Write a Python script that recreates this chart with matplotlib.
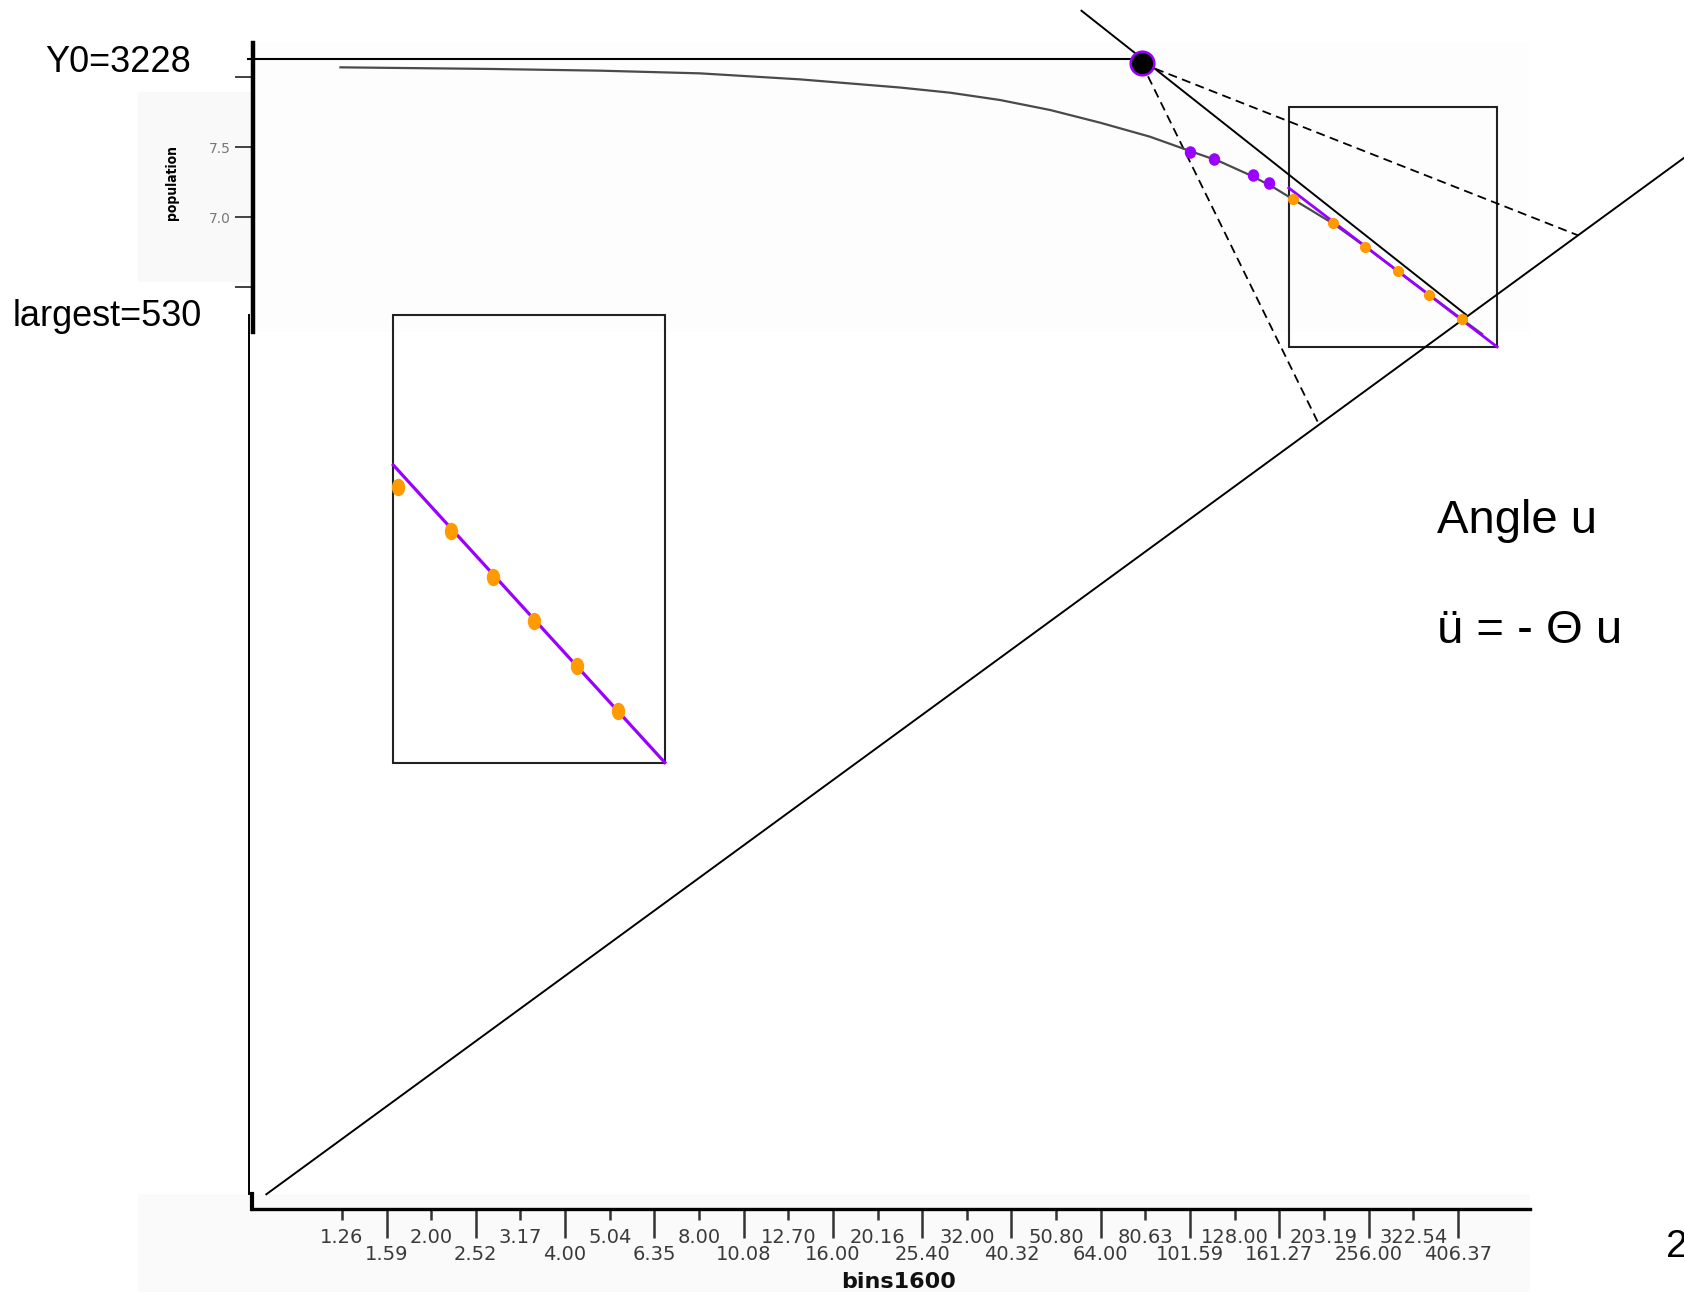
import numpy as np
import matplotlib.pyplot as plt
from matplotlib.path import Path
from matplotlib.markers import MarkerStyle
from matplotlib.patches import Rectangle

plt.rcParams['font.family'] = ['DejaVu Sans']

################## canvas (reference pixels, as shown) ##################
W, H = 1568, 1203

################## axes data ##################
bin_upper = [1.26, 2.00, 3.17, 5.04, 8.00, 12.70, 20.16, 32.00, 50.80, 80.63, 128.00, 203.19, 322.54]
bin_lower = [1.59, 2.52, 4.00, 6.35, 10.08, 16.00, 25.40, 40.32, 64.00, 101.59, 161.27, 256.00, 406.37]
bin_range = (0.791, 590.5)

pop_ticks = [6.5, 7.0, 7.5, 8.0]
pop_labels = ['', '7.0', '7.5', '']
pop_range = (6.18, 8.243)

################## drawing data (canvas units) ##################
curve_x = [317, 457, 558.7, 651.8, 744.9, 838, 884.6, 931, 977.7, 1024.2, 1070.8, 1108, 1135,
           1166, 1185, 1204, 1241, 1271, 1301, 1331, 1361, 1380]
curve_y = [62.7, 64.2, 65.8, 68.3, 73.9, 81.5, 86.3, 93.1, 102.4, 114.2, 127.3, 140.6, 150,
           164, 174, 185.6, 208, 229.5, 252, 274.5, 297, 311]

purple_x = [1107.6, 1130, 1167, 1182]
purple_y = [141.2, 148.3, 163, 170.7]
orange_x = [1204, 1241.6, 1271, 1301.5, 1330.5, 1361]
orange_y = [185.6, 208, 230, 252.3, 274.7, 297]
fit_x = [1200, 1394]
fit_y = [175, 323]
small_box = [1200, 100, 1394, 323]

zoom_orange_x = [370.9, 419.6, 459, 497.5, 537, 575.4]
zoom_orange_y = [453.7, 494.4, 537, 578.2, 620, 661.7]
zoom_fit_x = [366.2, 619]
zoom_fit_y = [433, 710]
zoom_box = [366.2, 293, 619, 710]

y0_point = [1063, 59]
level_x = [231, 1063]
level_y = [55.3, 55.3]
tangent_x = [1007, 1365]
tangent_y = [10, 293]
dash_a_x = [1063, 1229]
dash_a_y = [59, 397]
dash_b_x = [1063, 1469]
dash_b_y = [59, 219]
diag_x = [248, 1568]
diag_y = [1112, 147]
frame_x = [232, 232]
frame_y = [293, 1112]

purple = '#9a00ff'
orange = '#ff9a00'


def box(ax, b, **kw):
    ax.add_patch(Rectangle((b[0], b[1]), b[2] - b[0], b[3] - b[1], fill=False, **kw))


circ = Path.unit_circle()
oval = MarkerStyle(Path(circ.vertices * [0.75, 1.0], circ.codes))
oval2 = MarkerStyle(Path(circ.vertices * [0.9, 1.0], circ.codes))

fig = plt.figure(figsize=(16.84, 12.92), dpi=100)
cv = fig.add_axes([0, 0, 1, 1])
cv.set_xlim(0, W)
cv.set_ylim(H, 0)
cv.axis('off')

# faint SPSS chart backgrounds
cv.add_patch(Rectangle((236, 40), 1189, 269, color='#fdfdfd', zorder=0, lw=0))
cv.add_patch(Rectangle((128.5, 85.7), 107, 177, color='#f9f9f9', zorder=0, lw=0))
cv.add_patch(Rectangle((128.5, 1112), 1296, 91, color='#fafafa', zorder=0, lw=0))

# construction lines
cv.plot(level_x, level_y, color='black', lw=1.5)
cv.plot(frame_x, frame_y, color='black', lw=1.4)
cv.plot(diag_x, diag_y, color='black', lw=1.4)
cv.plot(tangent_x, tangent_y, color='black', lw=1.4)
cv.plot(dash_a_x, dash_a_y, color='black', lw=1.3, ls=(0, (5, 3)))
cv.plot(dash_b_x, dash_b_y, color='black', lw=1.3, ls=(0, (5, 3)))
box(cv, small_box, color='#222', lw=1.5)
box(cv, zoom_box, color='#222', lw=1.5)

# population curve and fit
cv.plot(curve_x, curve_y, color='#4a4a4a', lw=1.6)
cv.plot(fit_x, fit_y, color=purple, lw=2.0)
cv.plot(zoom_fit_x, zoom_fit_y, color=purple, lw=2.3)
cv.plot(purple_x, purple_y, ls='none', marker=oval2, ms=8, color=purple)
cv.plot(orange_x, orange_y, ls='none', marker='o', ms=7, color=orange)
cv.plot(zoom_orange_x, zoom_orange_y, ls='none', marker=oval, ms=11.5, color=orange)
cv.plot([y0_point[0]], [y0_point[1]], marker='o', ms=17, mfc='black', mec=purple, mew=1.8)

# texts
tf = ['Liberation Sans', 'DejaVu Sans']
cv.text(42, 67, 'Y0=3228', family=tf, fontsize=26, va='baseline')
cv.text(12, 303.5, 'largest=530', family=tf, fontsize=26, va='baseline')
cv.text(1337.6, 496, 'Angle u', family=tf, fontsize=34, va='baseline')
cv.text(1337.6, 599, 'ü = - Θ u', family=tf, fontsize=34, va='baseline')
cv.text(1551, 1170, '2', family=tf, fontsize=28, va='baseline')

# population axis (top)
ax_pop = fig.add_axes([235.6 / W, 1 - 309 / H, (1425 - 235.6) / W, (309 - 40) / H])
ax_pop.patch.set_visible(False)
ax_pop.set_ylim(pop_range)
ax_pop.set_yticks(pop_ticks)
ax_pop.set_yticklabels(pop_labels)
ax_pop.set_xticks([])
for s in ['top', 'right', 'bottom']:
    ax_pop.spines[s].set_visible(False)
ax_pop.spines['left'].set_linewidth(3.2)
ax_pop.tick_params(axis='y', length=13, width=1.3, color='#333', labelsize=10,
                   labelcolor='#777', pad=3)
ax_pop.set_ylabel('population', fontstretch='condensed',
                  fontweight='bold', fontsize=10, va='center', ha='center')
ax_pop.yaxis.set_label_coords(-0.0636, 0.5186)

# bins1600 axis (bottom)
ax_bins = fig.add_axes([234.6 / W, 1 - 1125.7 / H, (1424.6 - 234.6) / W, (1125.7 - 1111.8) / H])
ax_bins.patch.set_visible(False)
ax_bins.set_xscale('log', base=2)
ax_bins.set_xlim(bin_range)
ax_bins.set_yticks([])
ax_bins.set_xticks(bin_lower)
ax_bins.set_xticklabels(['%.2f' % v for v in bin_lower])
ax_bins.set_xticks(bin_upper, minor=True)
ax_bins.set_xticklabels(['%.2f' % v for v in bin_upper], minor=True)
for s in ['top', 'right']:
    ax_bins.spines[s].set_visible(False)
ax_bins.spines['bottom'].set_linewidth(2.4)
ax_bins.spines['left'].set_linewidth(3)
ax_bins.tick_params(axis='x', which='major', length=21, width=1.8, pad=5,
                    labelsize=14, color='#333', labelcolor='#3a3a3a')
ax_bins.tick_params(axis='x', which='minor', length=8, width=1.8, pad=5.5,
                    labelsize=14, color='#333', labelcolor='#3a3a3a')
ax_bins.set_xlabel('bins1600', fontweight='bold', fontsize=16, color='#111')
ax_bins.xaxis.set_label_coords(0.506, -4.2)

fig.savefig('out.png', dpi=100)
